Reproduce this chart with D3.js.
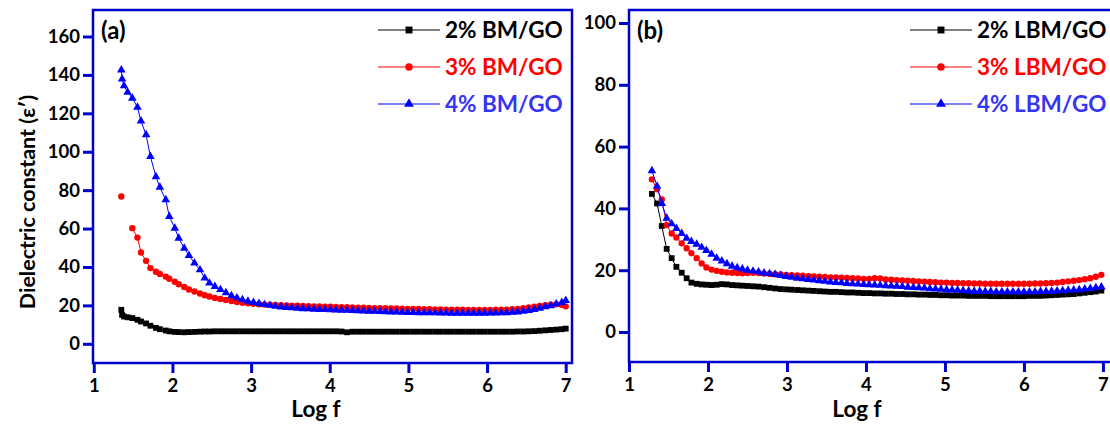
<!DOCTYPE html>
<html>
<head>
<meta charset="utf-8">
<script src="https://cdn.jsdelivr.net/npm/d3@7"></script>
<style>
  html, body { margin: 0; padding: 0; background: #fff; }
  svg { display: block; }
</style>
</head>
<body>
<svg id="chart" width="1110" height="425"></svg>
<script>
// ---- Panel (a): BM/GO composites ----
const logFA = [
  1.35, 1.36, 1.385, 1.43, 1.49, 1.555, 1.60, 1.665, 1.72, 1.79,
  1.84, 1.915, 1.96, 2.03, 2.08, 2.15, 2.21, 2.28, 2.35, 2.41,
  2.47, 2.54,
  2.61, 2.68, 2.75, 2.82, 2.89, 2.96, 3.03, 3.10, 3.17, 3.24,
  3.31, 3.38, 3.45, 3.52, 3.59, 3.66, 3.73, 3.80, 3.87, 3.94,
  4.01, 4.08, 4.15, 4.22, 4.29, 4.36, 4.43, 4.50, 4.57, 4.64,
  4.71, 4.78, 4.85, 4.92, 4.99, 5.06, 5.13, 5.20, 5.27, 5.34,
  5.41, 5.48, 5.55, 5.62, 5.69, 5.76, 5.83, 5.90, 5.97, 6.04,
  6.11, 6.18, 6.25, 6.32, 6.39, 6.46, 6.53, 6.60, 6.67, 6.74,
  6.81, 6.88, 6.95, 7.00
];
const bm2 = [
  17.7, 15.1, 14.2, 13.8, 13.4, 12.5, 11.6, 10.6, 9.4, 8.3,
  7.6, 6.9, 6.5, 6.2, 6.1, 6.0, 6.1, 6.2, 6.3, 6.4,
  6.4, 6.5,
  6.5, 6.5, 6.5, 6.5, 6.5, 6.5, 6.5, 6.5, 6.5, 6.5,
  6.5, 6.5, 6.5, 6.5, 6.5, 6.5, 6.5, 6.5, 6.5, 6.5,
  6.5, 6.5, 6.4, 6.0, 6.3, 6.3, 6.3, 6.3, 6.3, 6.3,
  6.3, 6.3, 6.3, 6.3, 6.3, 6.3, 6.3, 6.3, 6.3, 6.3,
  6.3, 6.3, 6.3, 6.3, 6.3, 6.3, 6.3, 6.3, 6.3, 6.3,
  6.3, 6.3, 6.3, 6.3, 6.4, 6.4, 6.5, 6.6, 6.8, 7.0,
  7.2, 7.4, 7.6, 7.9
];
const bm3 = [
  76.7, null, null, null, 60.2, 55.3, 47.5, 43.2, 39.4, 37.5,
  36.4, 35.0, 33.9, 32.3, 31.0, 29.6, 28.3, 27.2, 26.2, 25.3,
  24.6, 23.9,
  23.3, 22.8, 22.3, 21.8, 21.4, 21.1, 20.8, 20.6, 20.4, 20.3,
  20.2, 20.1, 20.0, 19.9, 19.8, 19.7, 19.6, 19.5, 19.4, 19.3,
  19.3, 19.2, 19.1, 19.0, 18.9, 18.8, 18.8, 18.7, 18.6, 18.6,
  18.5, 18.4, 18.4, 18.3, 18.2, 18.2, 18.1, 18.0, 18.0, 17.9,
  17.9, 17.8, 17.8, 17.7, 17.7, 17.6, 17.6, 17.6, 17.6, 17.6,
  17.7, 17.7, 17.8, 18.0, 18.2, 18.5, 18.9, 19.3, 19.7, 20.1,
  20.4, 20.6, 20.3, 19.5
];
const bm4 = [
  142.6, 137.8, 134.3, 131.0, 127.9, 123.2, 116.0, 108.8, 97.5, 87.0,
  81.5, 75.0, 66.3, 60.2, 55.0, 49.8, 46.0, 42.0, 38.5, 34.2,
  31.6, 29.8,
  28.2, 26.6, 25.0, 23.9, 23.0, 22.2, 21.5, 21.0, 20.4, 20.0,
  19.6, 19.2, 18.9, 18.7, 18.5, 18.3, 18.2, 18.0, 17.9, 17.8,
  17.7, 17.6, 17.5, 17.4, 17.3, 17.2, 17.1, 17.0, 16.9, 16.8,
  16.7, 16.6, 16.5, 16.4, 16.3, 16.3, 16.2, 16.2, 16.1, 16.1,
  16.0, 16.0, 15.9, 15.9, 15.9, 15.9, 15.9, 15.9, 15.9, 16.0,
  16.0, 16.1, 16.2, 16.4, 16.6, 16.9, 17.3, 17.8, 18.5, 19.3,
  19.8, 20.8, 21.5, 22.5
];

// ---- Panel (b): LBM/GO composites ----
const logFB = [
  1.29, 1.355, 1.415, 1.477, 1.54, 1.60, 1.667, 1.73, 1.79, 1.857,
  1.92, 1.98, 2.045, 2.11, 2.175, 2.24, 2.305, 2.37, 2.435, 2.50,
  2.57, 2.64, 2.71, 2.78, 2.85, 2.92, 2.99, 3.06, 3.13, 3.20,
  3.27, 3.34, 3.41, 3.48, 3.55, 3.62, 3.69, 3.76, 3.83, 3.90,
  3.97, 4.04, 4.11, 4.18, 4.25, 4.32, 4.39, 4.46, 4.53, 4.60,
  4.67, 4.74, 4.81, 4.88, 4.95, 5.02, 5.09, 5.16, 5.23, 5.30,
  5.37, 5.44, 5.51, 5.58, 5.65, 5.72, 5.79, 5.86, 5.93, 6.00,
  6.07, 6.14, 6.21, 6.28, 6.35, 6.42, 6.49, 6.56, 6.63, 6.70,
  6.77, 6.84, 6.91, 6.98
];
const lbm2 = [
  44.7, 41.6, 34.3, 26.9, 23.9, 21.1, 19.2, 17.4, 16.0, 15.6,
  15.4, 15.3, 15.2, 15.3, 15.5, 15.4, 15.2, 15.1, 15.0, 14.9,
  14.8, 14.7, 14.5, 14.3, 14.1, 13.9, 13.8, 13.7, 13.6, 13.5,
  13.4, 13.3, 13.2, 13.1, 13.0, 13.0, 12.9, 12.8, 12.8, 12.7,
  12.6, 12.6, 12.5, 12.5, 12.4, 12.4, 12.3, 12.3, 12.2, 12.2,
  12.1, 12.1, 12.0, 12.0, 11.9, 11.9, 11.8, 11.8, 11.8, 11.7,
  11.7, 11.7, 11.7, 11.6, 11.6, 11.6, 11.6, 11.6, 11.6, 11.6,
  11.7, 11.7, 11.7, 11.8, 11.9, 12.0, 12.1, 12.2, 12.3, 12.5,
  12.7, 12.9, 13.1, 13.4
];
const lbm3 = [
  49.4, 46.2, 42.9, 34.6, 31.9, 30.6, 28.7, 27.1, 25.5, 23.9,
  22.2, 20.9, 20.2, 19.8, 19.5, 19.3, 19.2, 19.1, 19.0, 19.1,
  19.2, 19.1, 18.9, 18.8, 18.7, 18.6, 18.5, 18.4, 18.3, 18.2,
  18.1, 18.0, 17.9, 17.8, 17.7, 17.7, 17.6, 17.5, 17.4, 17.3,
  17.2, 17.2, 17.4, 17.3, 17.0, 16.9, 16.8, 16.7, 16.6, 16.5,
  16.4, 16.3, 16.2, 16.1, 16.0, 16.0, 15.9, 15.9, 15.8, 15.8,
  15.7, 15.7, 15.6, 15.6, 15.6, 15.6, 15.6, 15.6, 15.6, 15.6,
  15.6, 15.7, 15.7, 15.8, 15.9, 16.0, 16.2, 16.4, 16.6, 16.8,
  17.1, 17.4, 17.9, 18.5
];
const lbm4 = [
  52.2, 47.2, 41.6, 36.8, 35.0, 33.5, 31.9, 30.3, 29.3, 28.4,
  27.4, 26.4, 25.2, 23.9, 23.0, 22.1, 21.3, 20.8, 20.4, 20.0,
  19.7, 19.4, 19.1, 18.9, 18.6, 18.3, 18.0, 17.7, 17.4, 17.2,
  17.0, 16.8, 16.6, 16.4, 16.2, 16.0, 15.9, 15.7, 15.6, 15.5,
  15.4, 15.3, 15.2, 15.1, 15.0, 14.9, 14.8, 14.7, 14.5, 14.4,
  14.3, 14.2, 14.0, 13.9, 13.8, 13.7, 13.6, 13.5, 13.4, 13.3,
  13.2, 13.2, 13.1, 13.1, 13.0, 13.0, 13.0, 13.0, 13.0, 13.0,
  13.0, 13.0, 13.1, 13.1, 13.2, 13.3, 13.4, 13.5, 13.6, 13.7,
  13.9, 14.1, 14.3, 14.6
];

const xTicks = [1, 2, 3, 4, 5, 6, 7];
const yTicksA = [0, 20, 40, 60, 80, 100, 120, 140, 160];
const yTicksB = [0, 20, 40, 60, 80, 100];
const legendA = ["2% BM/GO", "3% BM/GO", "4% BM/GO"];
const legendB = ["2% LBM/GO", "3% LBM/GO", "4% LBM/GO"];

// ---- styling ----
const FONT = "Lato, 'Open Sans', 'DejaVu Sans', sans-serif";
const AXIS = "#0000cd";
const lineColors = ["#000000", "#ff0000", "#0000ff"];
const textColors = ["#000000", "#ff0000", "#3535f2"];
const symbols = [d3.symbolSquare, d3.symbolCircle, d3.symbolTriangle];
const markSize = [34, 32, 32];
const legendMarkSize = [48, 44, 42];

const svg = d3.select("#chart");

function drawPanel(p) {
  const x = d3.scaleLinear().domain(p.xDomain).range([p.left, p.right]);
  const y = d3.scaleLinear().domain(p.yDomain).range([p.bottom, p.top]);
  const g = svg.append("g");

  // frame
  g.append("rect")
    .attr("x", p.left).attr("y", p.top)
    .attr("width", p.right - p.left).attr("height", p.bottom - p.top)
    .attr("fill", "none").attr("stroke", AXIS).attr("stroke-width", 2.5);

  // bottom axis
  const xAxis = d3.axisBottom(x).tickValues(xTicks).tickSize(10).tickPadding(5).tickFormat(d3.format("d"));
  const gx = g.append("g").attr("transform", `translate(0,${p.bottom})`).call(xAxis);
  gx.select(".domain").remove();
  gx.selectAll(".tick line").attr("stroke", AXIS).attr("stroke-width", 3);
  gx.selectAll(".tick text").attr("fill", "#000").attr("font-family", FONT)
    .attr("font-weight", "bold").attr("font-size", 18.5).attr("dy", "0.75em");

  // left axis
  const yAxis = d3.axisLeft(y).tickValues(p.yTicks).tickSize(10).tickPadding(3).tickFormat(d3.format("d"));
  const gy = g.append("g").attr("transform", `translate(${p.left},0)`).call(yAxis);
  gy.select(".domain").remove();
  gy.selectAll(".tick line").attr("stroke", AXIS).attr("stroke-width", 3);
  gy.selectAll(".tick text").attr("fill", "#000").attr("font-family", FONT)
    .attr("font-weight", "bold").attr("font-size", 18.5);

  // x title
  g.append("text").attr("x", p.xTitleX).attr("y", 417)
    .attr("text-anchor", "middle").attr("font-family", FONT)
    .attr("font-weight", "bold").attr("font-size", 22.5).text("Log f");

  // panel tag
  g.append("text").attr("x", p.left + 8).attr("y", 39)
    .attr("font-family", FONT).attr("font-weight", "bold")
    .attr("font-size", 24).text(p.tag);

  // series: line + markers (null values break the line)
  p.series.forEach((vals, i) => {
    const all = p.logF.map((f, k) => ({ f, v: vals[k] }));
    const pts = all.filter(d => d.v != null);
    const line = d3.line().defined(d => d.v != null).x(d => x(d.f)).y(d => y(d.v));
    g.append("path").datum(all).attr("d", line)
      .attr("fill", "none").attr("stroke", lineColors[i]).attr("stroke-width", 1);
    const sym = d3.symbol().type(symbols[i]).size(markSize[i]);
    g.append("g").selectAll("path").data(pts).join("path")
      .attr("transform", d => `translate(${x(d.f)},${y(d.v)})`)
      .attr("d", sym).attr("fill", lineColors[i]);
  });

  // legend
  const rows = [30, 67, 104];
  p.legend.forEach((label, i) => {
    const ly = rows[i];
    g.append("line").attr("x1", p.legX).attr("x2", p.legX + 62)
      .attr("y1", ly).attr("y2", ly).attr("stroke", lineColors[i]).attr("stroke-width", 1);
    g.append("path").attr("transform", `translate(${p.legX + 31},${ly})`)
      .attr("d", d3.symbol().type(symbols[i]).size(legendMarkSize[i])())
      .attr("fill", lineColors[i]);
    g.append("text").attr("x", p.legX + 67).attr("y", ly + 7.5)
      .attr("font-family", FONT).attr("font-weight", "bold").attr("font-size", 22.5)
      .attr("fill", textColors[i]).text(label);
  });
}

drawPanel({
  left: 93, right: 572, top: 10, bottom: 363,
  xDomain: [0.99, 7.08], yDomain: [-10, 173.8],
  yTicks: yTicksA, logF: logFA, series: [bm2, bm3, bm4],
  legend: legendA, legX: 378, xTitleX: 316, tag: "(a)"
});

drawPanel({
  left: 629, right: 1114, top: 10, bottom: 362,
  xDomain: [1.0, 7.14], yDomain: [-9.7, 104.2],
  yTicks: yTicksB, logF: logFB, series: [lbm2, lbm3, lbm4],
  legend: legendB, legX: 910, xTitleX: 857, tag: "(b)"
});

// shared y title
svg.append("text")
  .attr("transform", "translate(35,202) rotate(-90)")
  .attr("text-anchor", "middle").attr("font-family", FONT)
  .attr("font-weight", "bold").attr("font-size", 21.5)
  .text("Dielectric constant (ε′)");
</script>
</body>
</html>
